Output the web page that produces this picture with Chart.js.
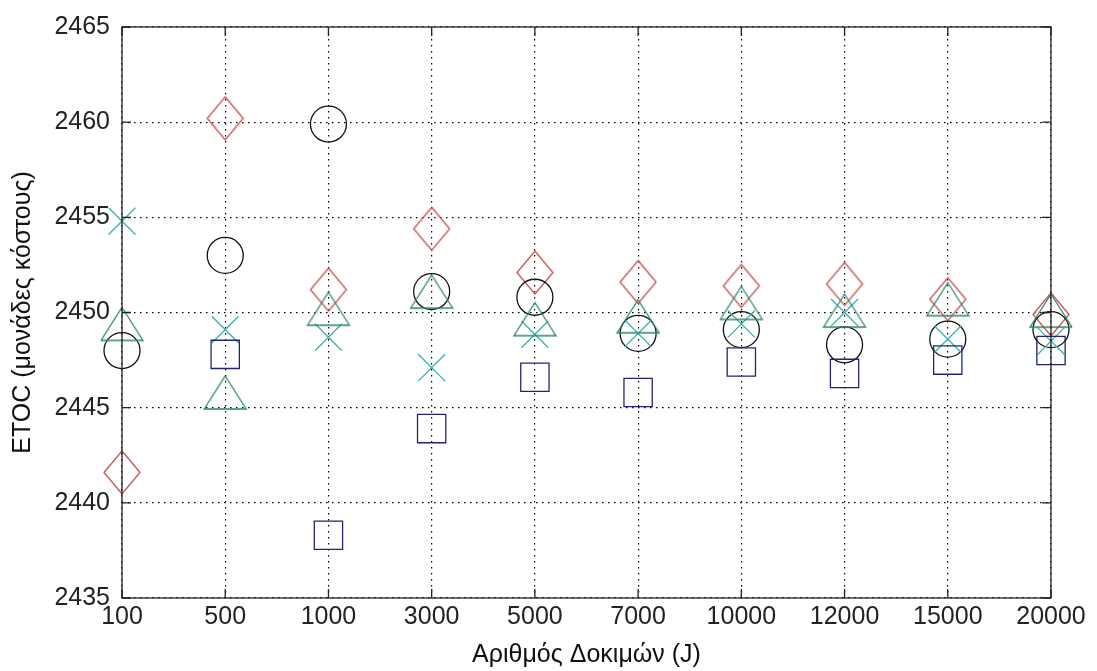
<!DOCTYPE html>
<html>
<head>
<meta charset="utf-8">
<script src="https://cdn.jsdelivr.net/npm/chart.js@4/dist/chart.umd.min.js"></script>
<style>
  html, body { margin: 0; padding: 0; background: #fff; }
  #wrap { width: 1097px; height: 671px; }
</style>
</head>
<body>
<div id="wrap"><canvas id="myChart" width="1097" height="671"></canvas></div>
<script>
// number of trials J (equally spaced on the axis)
var trials = ['100', '500', '1000', '3000', '5000', '7000', '10000', '12000', '15000', '20000'];

// ETOC per run, one array per marker series
var etocDiamond  = [2441.6, 2460.2, 2451.2, 2454.4, 2452.1, 2451.6, 2451.4, 2451.5, 2450.7, 2449.9];
var etocCircle   = [2448.0, 2453.0, 2459.9, 2451.1, 2450.8, 2448.9, 2449.1, 2448.3, 2448.6, 2449.1];
var etocCross    = [2454.8, 2449.1, 2448.7, 2447.1, 2448.85, 2448.9, 2449.4, 2450.0, 2448.6, 2448.5];
var etocTriangle = [2449.4, 2445.8, 2450.2, 2451.1, 2449.65, 2449.8, 2450.5, 2450.1, 2450.7, 2450.1];
var etocSquare   = [null, 2447.8, 2438.3, 2443.9, 2446.6, 2445.8, 2447.4, 2446.8, 2447.5, 2448.0];

var yTicks = [2435, 2440, 2445, 2450, 2455, 2460, 2465];

var FONT = 'Liberation Sans';

// small offscreen canvases used as marker images
function makeMarker(w, h, color, draw) {
  var c = document.createElement('canvas');
  c.width = w + 4; c.height = h + 4;
  var g = c.getContext('2d');
  g.strokeStyle = color;
  g.lineWidth = 1.3;
  g.beginPath();
  draw(g, 2, 2, w, h);
  g.stroke();
  return c;
}

var diamondImg = makeMarker(36, 43, 'rgb(200, 80, 80)', function (g, x, y, w, h) {
  g.moveTo(x + w / 2, y);
  g.lineTo(x + w, y + h / 2);
  g.lineTo(x + w / 2, y + h);
  g.lineTo(x, y + h / 2);
  g.closePath();
});

var triangleImg = makeMarker(42, 33, 'rgb(45, 135, 105)', function (g, x, y, w, h) {
  g.moveTo(x + w / 2, y);
  g.lineTo(x + w, y + h);
  g.lineTo(x, y + h);
  g.closePath();
});

function series(data, style, color, radius) {
  return {
    data: data,
    showLine: false,
    pointStyle: style,
    pointRadius: radius,
    pointHoverRadius: radius,
    pointBorderColor: color,
    pointBackgroundColor: 'rgba(0,0,0,0)',
    pointBorderWidth: 1.3,
    borderColor: color
  };
}

// box around the plot plus MATLAB-style inward ticks
var axesBox = {
  id: 'axesBox',
  afterDraw: function (chart) {
    var ctx = chart.ctx, a = chart.chartArea;
    var xs = chart.scales.x, ys = chart.scales.y;
    ctx.save();
    ctx.strokeStyle = '#222';
    ctx.lineWidth = 1.3;
    ctx.strokeRect(a.left, a.top, a.right - a.left, a.bottom - a.top);
    ctx.beginPath();
    for (var i = 0; i < trials.length; i++) {
      var px = xs.getPixelForValue(i);
      ctx.moveTo(px, a.bottom); ctx.lineTo(px, a.bottom - 9);
      ctx.moveTo(px, a.top); ctx.lineTo(px, a.top + 9);
    }
    yTicks.forEach(function (v) {
      var py = ys.getPixelForValue(v);
      ctx.moveTo(a.left, py); ctx.lineTo(a.left + 9, py);
      ctx.moveTo(a.right, py); ctx.lineTo(a.right - 9, py);
    });
    ctx.stroke();
    ctx.restore();
  }
};

var ctx = document.getElementById('myChart').getContext('2d');
var myChart = new Chart(ctx, {
  type: 'line',
  data: {
    labels: trials,
    datasets: [
      series(etocSquare, 'rect', 'rgb(35, 35, 115)', 20),
      series(etocTriangle, triangleImg, 'rgb(45, 135, 105)', 20),
      series(etocCross, 'crossRot', 'rgb(60, 175, 175)', 19),
      series(etocCircle, 'circle', '#111', 18),
      series(etocDiamond, diamondImg, 'rgb(200, 80, 80)', 20)
    ]
  },
  options: {
    responsive: false,
    animation: false,
    layout: { padding: { top: 21, right: 46, left: 0, bottom: 0 } },
    plugins: {
      legend: { display: false },
      tooltip: { enabled: false }
    },
    scales: {
      x: {
        offset: false,
        afterFit: function (s) { s.height = 73; },
        grid: {
          color: '#000',
          lineWidth: 1.2,
          drawTicks: false
        },
        border: { display: false, dash: [1.5, 4.5] },
        ticks: {
          color: '#222',
          padding: 4,
          maxRotation: 0,
          autoSkip: false,
          font: { family: FONT, size: 25 }
        },
        title: {
          display: true,
          text: 'Αριθμός Δοκιμών (J)',
          color: '#111',
          padding: { top: 4, bottom: 1 },
          font: { family: FONT, size: 25 }
        }
      },
      y: {
        min: 2435,
        max: 2465,
        afterFit: function (s) { s.width = 122; },
        afterBuildTicks: function (s) {
          s.ticks = yTicks.map(function (v) { return { value: v }; });
        },
        grid: {
          color: '#000',
          lineWidth: 1.2,
          drawTicks: false
        },
        border: { display: false, dash: [1.5, 4.5] },
        ticks: {
          color: '#222',
          padding: 12,
          font: { family: FONT, size: 25 },
          callback: function (v) { return String(v); }
        },
        title: {
          display: true,
          text: 'ETOC (μονάδες κόστους)',
          color: '#111',
          padding: { top: 8, bottom: 0 },
          font: { family: FONT, size: 25 }
        }
      }
    }
  },
  plugins: [axesBox]
});
</script>
</body>
</html>
